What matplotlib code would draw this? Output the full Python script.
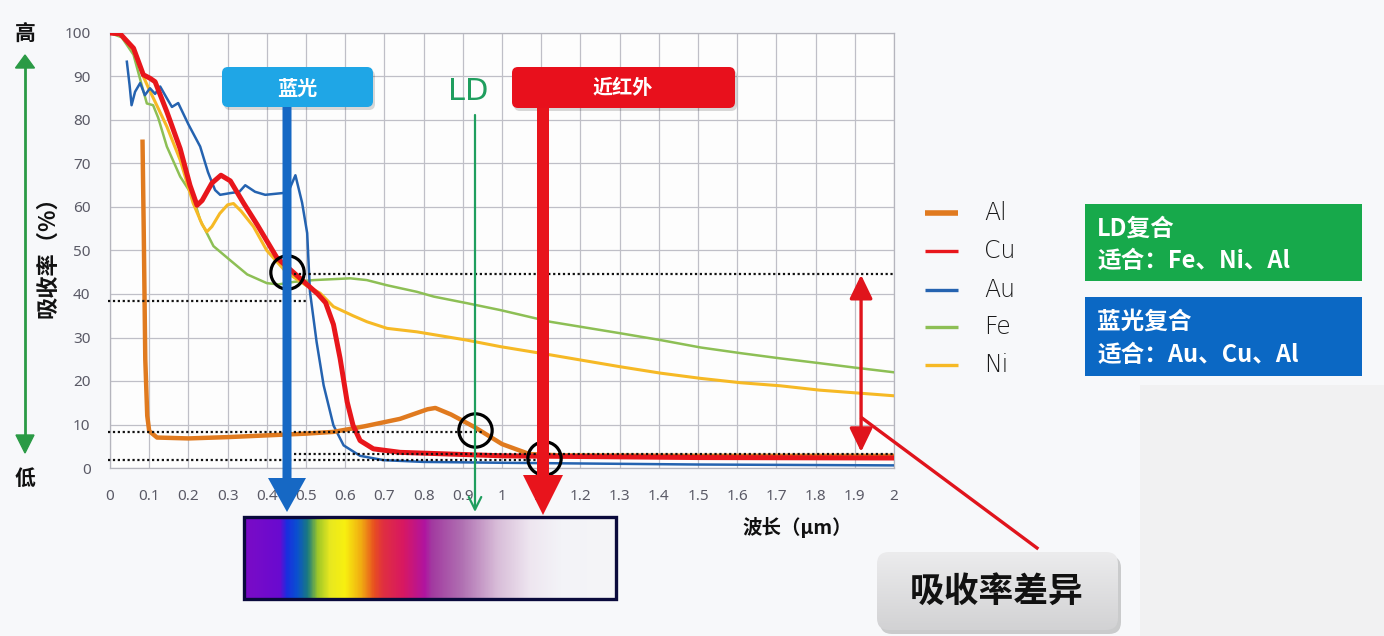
import numpy as np
import matplotlib
matplotlib.use('Agg')
import matplotlib.pyplot as plt
from matplotlib.patches import FancyBboxPatch, FancyArrow, Rectangle, Polygon
from matplotlib.colors import LinearSegmentedColormap

plt.rcParams['font.family'] = ['Noto Sans CJK SC', 'DejaVu Sans']

# ---------------- data ----------------
al_x = [0.083, 0.086, 0.09, 0.095, 0.1, 0.12, 0.2, 0.3, 0.4, 0.5, 0.57, 0.65, 0.74, 0.81, 0.83, 0.87, 0.93, 1.0, 1.07, 1.15, 1.5, 2.0]
al_y = [75, 55, 25, 12, 8.5, 7.0, 6.8, 7.1, 7.5, 7.9, 8.3, 9.6, 11.3, 13.5, 13.8, 12.3, 9.4, 5.5, 3.2, 2.9, 2.8, 2.8]

cu_x = [0.0, 0.026, 0.06, 0.085, 0.102, 0.115, 0.145, 0.179, 0.204, 0.222, 0.235, 0.26, 0.283, 0.307, 0.34, 0.375, 0.426,
        0.485, 0.53, 0.55, 0.57, 0.587, 0.605, 0.62, 0.638, 0.672, 0.74, 1.0, 1.5, 2.0]
cu_y = [100, 99.8, 96.5, 90.4, 89.6, 88.8, 81.9, 73.4, 65, 60.4, 61.5, 65.5, 67.3, 66, 61, 56, 48.3,
        43.6, 40, 38, 33, 25.2, 15.2, 9.8, 6.3, 4.4, 3.6, 2.8, 2.4, 2.3]

au_x = [0.043, 0.05, 0.055, 0.064, 0.077, 0.089, 0.102, 0.115, 0.128, 0.145, 0.158, 0.174, 0.2, 0.23, 0.25, 0.268, 0.281,
        0.307, 0.33, 0.345, 0.37, 0.396, 0.44, 0.455, 0.473, 0.49, 0.503, 0.51, 0.527, 0.545, 0.57, 0.596, 0.638, 0.698,
        0.8, 1.0, 1.5, 2.0]
au_y = [93.4, 88, 83.4, 86.5, 88.5, 85.7, 87.3, 86, 87.7, 85, 83, 83.9, 79, 73.9, 68, 63.9, 62.8,
        63.2, 63.5, 65, 63.5, 62.8, 63.2, 63.5, 67.3, 61, 54, 40.6, 29, 19, 9.8, 5.2, 2.8, 1.8,
        1.4, 1.2, 0.8, 0.6]

fe_x = [0.0, 0.03, 0.06, 0.081, 0.094, 0.11, 0.123, 0.145, 0.179, 0.212, 0.23, 0.264, 0.306, 0.35, 0.4, 0.43, 0.47,
        0.52, 0.613, 0.655, 0.707, 0.783, 0.826, 0.91, 0.996, 1.124, 1.30, 1.405, 1.507, 1.609, 1.71, 1.81, 1.898, 2.0]
fe_y = [100, 99, 95, 88, 83.8, 83.4, 80.5, 73.9, 67, 62.4, 57, 51, 47.8, 44.5, 42.5, 42.2, 42.8,
        43.2, 43.6, 43.2, 42, 40.5, 39.4, 37.9, 36.3, 33.6, 31, 29.4, 27.7, 26.4, 25.2, 24.1, 23.1, 22.0]

ni_x = [0.0, 0.03, 0.06, 0.085, 0.1, 0.115, 0.145, 0.179, 0.212, 0.235, 0.247, 0.26, 0.28, 0.3, 0.315, 0.335, 0.366, 0.4,
        0.45, 0.5, 0.536, 0.57, 0.62, 0.656, 0.707, 0.783, 0.91, 0.996, 1.124, 1.30, 1.405, 1.507, 1.609, 1.71, 1.81,
        1.898, 2.0]
ni_y = [100, 99.5, 96, 90, 87, 84.2, 78.5, 70.8, 60.9, 56, 54.3, 55.5, 58.5, 60.5, 60.8, 59, 55.5, 50,
        45, 42, 40.2, 37.1, 35, 33.6, 32.1, 31.3, 29.4, 27.9, 26, 23.3, 21.8, 20.6, 19.6, 18.9, 17.9,
        17.3, 16.6]

x_ticks = [i / 10 for i in range(21)]
x_tick_labels = ['0', '0.1', '0.2', '0.3', '0.4', '0.5', '0.6', '0.7', '0.8', '0.9', '1',
                 '1.1', '1.2', '1.3', '1.4', '1.5', '1.6', '1.7', '1.8', '1.9', '2']
y_ticks = [0, 10, 20, 30, 40, 50, 60, 70, 80, 90, 100]
y_tick_labels = ['0', '10', '20', '30', '40', '50', '60', '70', '80', '90', '100']

legend_names = ['Al', 'Cu', 'Au', 'Fe', 'Ni']
legend_colors = ['#e07a1f', '#e8161b', '#2563b0', '#8dbf55', '#f6b925']

# annotation positions (data coords)
circle_x = [0.452, 0.932, 1.106]
circle_y = [45.0, 8.8, 2.2]
dotted_lines = [(0.47, 2.0, 44.7), (-0.005, 0.5, 38.5), (-0.005, 0.95, 8.3), (-0.005, 1.1, 1.9), (0.47, 2.0, 3.3)]
diff_x, diff_top, diff_bottom = 1.916, 44.4, 3.7

# ---------------- figure ----------------
W, H = 1384, 636
fig = plt.figure(figsize=(W / 100, H / 100), dpi=100, facecolor='#f7f8fa')


def fr(x0, y0, x1, y1):
    return [x0 / W, 1 - y1 / H, (x1 - x0) / W, (y1 - y0) / H]


ax = fig.add_axes(fr(110, 33, 894, 468))
ax.set_facecolor('#fdfdfd')
ax.set_xlim(0, 2)
ax.set_ylim(0, 100)
ax.set_xticks(x_ticks)
ax.set_xticklabels(x_tick_labels, fontfamily=['Noto Sans', 'DejaVu Sans'], fontsize=11, color='#5a5a66')
ax.set_yticks(y_ticks)
ax.set_yticklabels(y_tick_labels, fontfamily=['Noto Sans', 'DejaVu Sans'], fontsize=11, color='#5a5a66')
ax.tick_params(axis='x', length=0, pad=15)
ax.tick_params(axis='y', length=0, pad=14)
ax.grid(True, color='#bfbfc7', lw=0.9)
ax.set_axisbelow(True)
for s in ax.spines.values():
    s.set_color('#b5b5bd')
    s.set_linewidth(0.9)

ax.plot(fe_x, fe_y, color=legend_colors[3], lw=1.8, zorder=3)
ax.plot(ni_x, ni_y, color=legend_colors[4], lw=2.2, zorder=3)
ax.plot(au_x, au_y, color=legend_colors[2], lw=1.8, zorder=3)
ax.plot(al_x, al_y, color=legend_colors[0], lw=3.2, zorder=4, solid_joinstyle='round')
ax.plot(cu_x, cu_y, color=legend_colors[1], lw=3.6, zorder=5, solid_joinstyle='round')

for x0, x1, y in dotted_lines:
    ax.plot([x0, x1], [y, y], color='#111111', lw=1.6, ls=(0, (1, 1.2)), zorder=6, clip_on=False)

ax.plot(circle_x, circle_y, 'o', ms=24, mfc='none', mec='black', mew=2.3, zorder=7, clip_on=False)

ax.annotate('', xy=(diff_x, diff_top), xytext=(diff_x, diff_bottom),
            arrowprops=dict(arrowstyle='<|-|>,head_length=1.45,head_width=0.7', lw=2.4,
                            color='#e0141c', shrinkA=0, shrinkB=0), zorder=8)

# ---------------- overlay (pixel coordinates) ----------------
ov = fig.add_axes([0, 0, 1, 1], zorder=10)
ov.axis('off')

# faint background region lower right
ov.add_patch(Rectangle((1140, 385), 244, 251, facecolor='#f1f1f2', edgecolor='none', zorder=0))


def rbox(x0, y0, x1, y1, color, r=6, shadow=True):
    if shadow:
        ov.add_patch(FancyBboxPatch((x0 + 2, y0 + 3), x1 - x0, y1 - y0, boxstyle=f'round,pad=0,rounding_size={r}',
                                    facecolor='#000000', alpha=0.15, edgecolor='none', zorder=2))
    p = FancyBboxPatch((x0, y0), x1 - x0, y1 - y0, boxstyle=f'round,pad=0,rounding_size={r}',
                       facecolor=color, edgecolor='none', zorder=3)
    ov.add_patch(p)
    return p


# blue label + arrow
rbox(222, 67, 373, 107, '#1fa6e6')
ov.text(297, 88, '蓝光', color='white', fontsize=14.5, fontweight='bold', ha='center', va='center', zorder=4)
ov.add_patch(FancyArrow(287, 107, 0, 512 - 107, width=9, head_width=38, head_length=34,
                        length_includes_head=True, color='#1668c4', lw=0, zorder=5))

# red label + arrow
rbox(512, 67, 735, 108, '#e8101c')
ov.text(623, 88, '近红外', color='white', fontsize=14.5, fontweight='bold', ha='center', va='center', zorder=4)
ov.add_patch(FancyArrow(543, 108, 0, 515 - 108, width=12, head_width=40, head_length=40,
                        length_includes_head=True, color='#e8141c', lw=0, zorder=5))

# LD label + arrow
ov.text(468, 91, 'LD', color='#1f9e5e', fontsize=22, fontfamily='DejaVu Sans',
        ha='center', va='center', zorder=4)
ov.annotate('', xy=(475, 512), xytext=(475, 115),
            arrowprops=dict(arrowstyle='->,head_length=0.9,head_width=0.45', lw=1.6, color='#1f9e5e',
                            shrinkA=0, shrinkB=0), zorder=5)

# spectrum bar
spec_cols = [(0.0, '#7a0cc6'), (0.092, '#6a0ad0'), (0.111, '#1a2ee0'), (0.139, '#0a50d0'), (0.168, '#1a7a80'),
             (0.196, '#a0c828'), (0.228, '#e8e820'), (0.269, '#f8f010'), (0.315, '#f0a812'), (0.348, '#e85020'),
             (0.372, '#e03040'), (0.427, '#d81862'), (0.486, '#b014a0'), (0.505, '#a23aa0'), (0.587, '#b070b2'),
             (0.682, '#d8bcd8'), (0.772, '#eee6f0'), (0.853, '#f3f3f7'), (1.0, '#f5f5f8')]
spec_cmap = LinearSegmentedColormap.from_list('spec', spec_cols)
ov.imshow(np.linspace(0, 1, 600).reshape(1, -1), cmap=spec_cmap, aspect='auto',
          extent=[245, 615, 598, 517], zorder=2, interpolation='bilinear')
ov.add_patch(Rectangle((244, 516.5), 372, 82, facecolor='none', edgecolor='#0a0a3c', lw=2.4, zorder=3))

# left indicator
green = '#2a9a45'
ov.plot([25, 25], [66, 437], color=green, lw=2.0, zorder=3)
ov.add_patch(Polygon([(15.5, 68), (34.5, 68), (25, 55)], closed=True, color=green, zorder=3))
ov.add_patch(Polygon([(16, 435), (34, 435), (25, 453)], closed=True, color=green, zorder=3))
ov.text(25, 33, '高', fontsize=15, fontweight='bold', ha='center', va='center', color='#111111')
ov.text(25, 478, '低', fontsize=15, fontweight='bold', ha='center', va='center', color='#111111')
ov.text(48, 252, '吸收率（%）', fontsize=16, fontweight='bold', ha='center', va='center', rotation=90,
        color='#111111')
ov.text(797, 527, '波长（μm）', fontsize=14, fontweight='bold', ha='center', va='center', color='#111111')

# legend
leg_y = [213, 251, 290, 327, 365]
for name, col, yy, lw in zip(legend_names, legend_colors, leg_y, [4, 2.4, 2.4, 2.4, 2.4]):
    ov.plot([925, 958], [yy, yy], color=col, lw=lw, solid_capstyle='butt', zorder=3)
    ov.text(984, yy, name, fontsize=17, fontfamily='DejaVu Sans', fontweight='light',
            ha='left', va='center', color='#1a1a1a')

# right boxes
ov.add_patch(Rectangle((1085, 204), 277, 77, facecolor='#17a94b', edgecolor='none', zorder=3))
ov.text(1097, 229, 'LD复合', color='white', fontsize=17, fontweight='bold', ha='left', va='center', zorder=4)
ov.text(1097, 261, '适合：Fe、Ni、Al', color='white', fontsize=17, fontweight='bold', ha='left', va='center',
        zorder=4)
ov.add_patch(Rectangle((1085, 297), 277, 79, facecolor='#0b68c4', edgecolor='none', zorder=3))
ov.text(1097, 322, '蓝光复合', color='white', fontsize=17, fontweight='bold', ha='left', va='center', zorder=4)
ov.text(1097, 355, '适合：Au、Cu、Al', color='white', fontsize=17, fontweight='bold', ha='left', va='center',
        zorder=4)

# difference callout
ov.plot([862, 1037], [418, 548], color='#e0141c', lw=2.4, zorder=3)
ov.add_patch(FancyBboxPatch((880, 556), 241, 78, boxstyle='round,pad=0,rounding_size=12',
                            facecolor='#000000', alpha=0.18, edgecolor='none', zorder=2))
gp = FancyBboxPatch((877, 552), 241, 78, boxstyle='round,pad=0,rounding_size=12',
                    facecolor='none', edgecolor='none', zorder=3)
ov.add_patch(gp)
gcm = LinearSegmentedColormap.from_list('g', ['#ececed', '#d2d2d4'])
gim = ov.imshow(np.linspace(0, 1, 100).reshape(-1, 1), cmap=gcm, aspect='auto',
                extent=[877, 1118, 630, 552], zorder=3)
gim.set_clip_path(gp)
ov.text(997, 591, '吸收率差异', fontsize=25, fontweight='bold', ha='center', va='center', color='#111111', zorder=4)

ov.set_xlim(0, W)
ov.set_ylim(H, 0)

fig.savefig('out.png', dpi=100, facecolor=fig.get_facecolor())
